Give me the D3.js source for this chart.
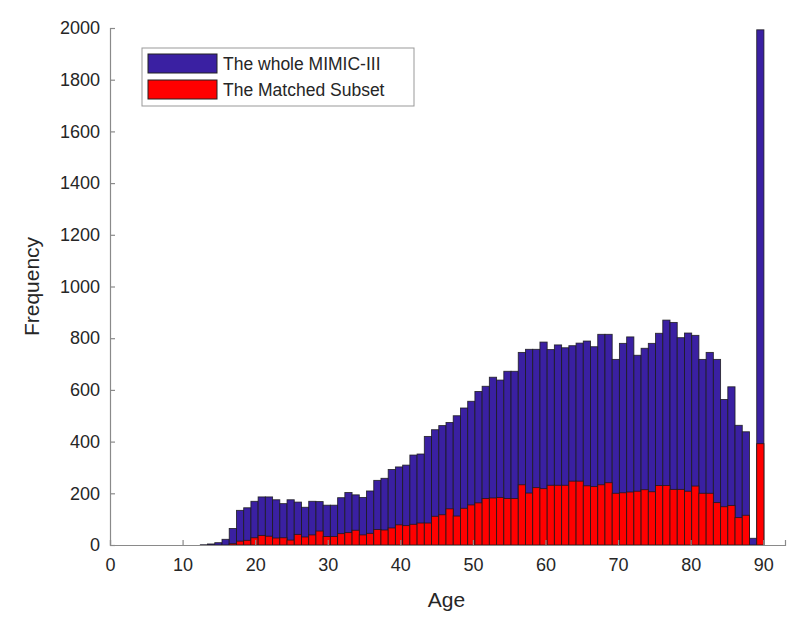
<!DOCTYPE html>
<html>
<head>
<meta charset="utf-8">
<script src="https://cdn.jsdelivr.net/npm/d3@7"></script>
<style>
  body { margin: 0; background: #fff; }
  text { font-family: "Liberation Sans", Arial, sans-serif; }
</style>
</head>
<body>
<div id="chart"></div>
<script>
// histogram counts per age bin (0 .. 90)
var ages = d3.range(0, 91);

var wholeCounts = [
    0, 0, 0, 0, 0, 0, 0, 0, 0, 0,
    0, 0, 0, 1, 4, 9, 22, 64, 134, 144,
    169, 186, 186, 175, 160, 175, 166, 146, 169, 168,
    154, 154, 183, 203, 194, 184, 209, 250, 258, 292,
    302, 309, 348, 352, 420, 446, 462, 474, 500, 530,
    556, 594, 614, 649, 638, 672, 672, 745, 757, 757,
    785, 756, 774, 763, 771, 781, 789, 767, 815, 815,
    718, 780, 805, 734, 761, 780, 819, 870, 861, 802,
    820, 811, 718, 745, 718, 563, 612, 463, 438, 26,
    1993
];

var subsetCounts = [
    0, 0, 0, 0, 0, 0, 0, 0, 0, 0,
    0, 0, 0, 0, 0, 0, 0, 5, 15, 18,
    28, 37, 34, 27, 28, 19, 41, 31, 39, 54,
    33, 33, 44, 48, 57, 39, 45, 60, 58, 66,
    78, 75, 80, 85, 85, 111, 117, 140, 112, 142,
    155, 163, 180, 182, 184, 180, 180, 233, 201, 222,
    218, 231, 231, 231, 247, 247, 229, 226, 233, 241,
    200, 202, 205, 208, 214, 206, 230, 230, 215, 215,
    208, 228, 200, 200, 164, 148, 153, 106, 115, 0,
    392
];

var seriesNames = ["The whole MIMIC-III", "The Matched Subset"];
var seriesColors = ["#3a20a2", "#ff0000"];

var yTicks = d3.range(0, 2001, 200);
var xTicks = d3.range(0, 91, 10);

// bins of the histogram are slightly narrower than one year
var binWidth = 89.6 / 90;

var svgWidth = 800;
var svgHeight = 619;

var margin = {
    top: 28,
    right: 15,
    bottom: 74,
    left: 110
};

var width = svgWidth - margin.left - margin.right;
var height = svgHeight - margin.top - margin.bottom;

var svg = d3.select("#chart")
    .append("svg")
    .attr("width", svgWidth)
    .attr("height", svgHeight);

var chartGroup = svg.append("g")
    .attr("transform", `translate(${margin.left}, ${margin.top})`);

var xScale = d3.scaleLinear()
    .domain([0, 93])
    .range([0, width]);

var yScale = d3.scaleLinear()
    .domain([0, 2000])
    .range([height, 0]);

chartGroup.append("clipPath")
    .attr("id", "plot-clip")
    .append("rect")
    .attr("x", 0)
    .attr("y", -2)
    .attr("width", width)
    .attr("height", height + 2);

var barsGroup = chartGroup.append("g")
    .attr("clip-path", "url(#plot-clip)");

function drawBars(counts, color) {
    barsGroup.append("g")
        .selectAll("rect")
        .data(ages)
        .enter()
        .append("rect")
        .attr("x", d => xScale(d * binWidth - binWidth / 2))
        .attr("width", xScale(binWidth) - xScale(0))
        .attr("y", d => yScale(counts[d]))
        .attr("height", d => yScale(0) - yScale(counts[d]))
        .attr("fill", color)
        .attr("stroke", "#1a1a1a")
        .attr("stroke-opacity", 0.85)
        .attr("stroke-width", 0.9);
}

drawBars(wholeCounts, seriesColors[0]);
drawBars(subsetCounts, seriesColors[1]);

// axes, MATLAB style ticks pointing inward
var leftAxis = d3.axisLeft(yScale)
    .tickValues(yTicks)
    .tickSize(-5)
    .tickPadding(10)
    .tickFormat(d3.format("d"));

var bottomAxis = d3.axisBottom(xScale)
    .tickValues(xTicks)
    .tickSize(-5)
    .tickPadding(10);

var yAxis = chartGroup.append("g")
    .call(leftAxis);

var xAxis = chartGroup.append("g")
    .attr("transform", `translate(0, ${height})`)
    .call(bottomAxis);

[xAxis, yAxis].forEach(function(ax) {
    ax.select(".domain").attr("stroke", "#8a8a8a").attr("stroke-width", 1.2);
    ax.selectAll(".tick line").attr("stroke", "#8a8a8a").attr("stroke-width", 1.2);
    ax.selectAll(".tick text")
        .attr("fill", "#262626")
        .style("font-size", "18px");
});

xAxis.selectAll(".tick text").attr("dy", "0.9em");

// axis labels
chartGroup.append("text")
    .attr("x", width / 2 - 1)
    .attr("y", height + 62)
    .attr("text-anchor", "middle")
    .attr("fill", "#262626")
    .style("font-size", "21px")
    .text("Age");

chartGroup.append("text")
    .attr("transform", "rotate(-90)")
    .attr("x", -(yScale(1000)))
    .attr("y", -71)
    .attr("text-anchor", "middle")
    .attr("fill", "#262626")
    .style("font-size", "21px")
    .text("Frequency");

// legend
var legend = chartGroup.append("g")
    .attr("transform", `translate(${142 - margin.left}, ${48 - margin.top})`);

legend.append("rect")
    .attr("width", 272)
    .attr("height", 58)
    .attr("fill", "#fff")
    .attr("stroke", "#999")
    .attr("stroke-width", 1);

seriesNames.forEach(function(name, i) {
    legend.append("rect")
        .attr("x", 6)
        .attr("y", 6 + i * 26)
        .attr("width", 69)
        .attr("height", 19)
        .attr("fill", seriesColors[i])
        .attr("stroke", "#222")
        .attr("stroke-width", 1);

    legend.append("text")
        .attr("x", 81)
        .attr("y", 22 + i * 26)
        .attr("fill", "#262626")
        .style("font-size", "17.5px")
        .text(name);
});
</script>
</body>
</html>
